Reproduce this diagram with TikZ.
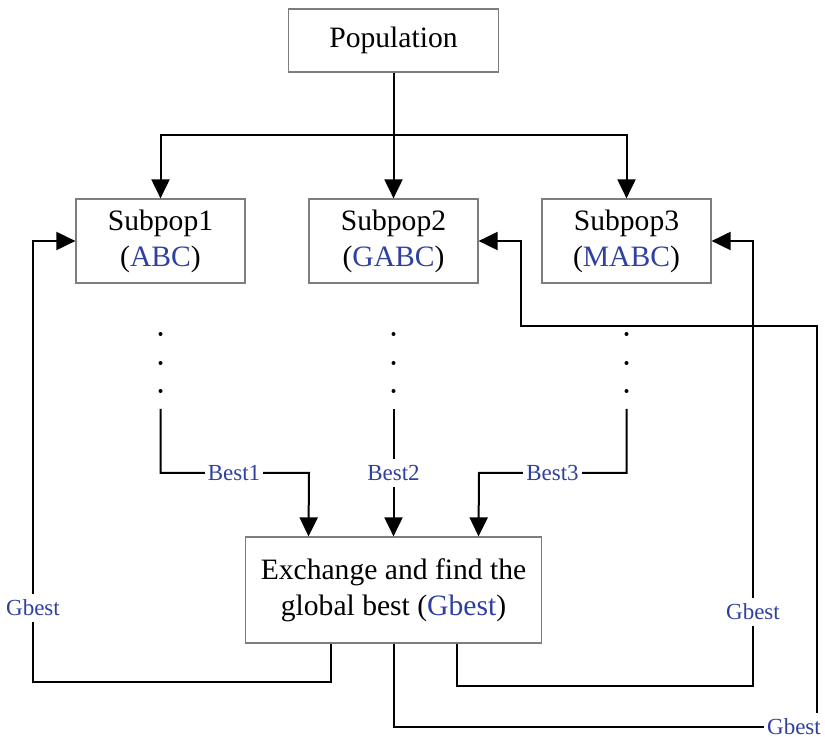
\documentclass[tikz,border=0pt]{standalone}
\usepackage{fontspec}
\setmainfont{Liberation Serif}
\usetikzlibrary{arrows.meta}
\definecolor{lblue}{RGB}{48,64,160}
\definecolor{boxgray}{RGB}{125,125,125}
\begin{document}
\begin{tikzpicture}[x=0.5pt,y=-0.5pt,
  box/.style={draw=boxgray,line width=0.6pt,align=center,inner sep=0pt,
    font=\fontsize{14.8}{18}\selectfont},
  conn/.style={line width=1pt,black},
  arr/.style={conn,-{Triangle[width=9pt,length=9.5pt]}},
  lbl/.style={fill=white,text=lblue,inner xsep=1.5pt,inner ysep=3pt,
    font=\fontsize{11.5}{13}\selectfont}]
\useasboundingbox (0,0) rectangle (825,737);
\newcommand{\bl}[1]{\textcolor{lblue}{#1}}
% boxes
\node[box,minimum width=105pt,minimum height=31.5pt] (pop) at (393.5,40.5) {Population};
\node[box,minimum width=84.5pt,minimum height=42pt] (s1) at (160.5,241) {Subpop1\\(\bl{ABC})};
\node[box,minimum width=84.5pt,minimum height=42pt] (s2) at (393.5,241) {Subpop2\\(\bl{GABC})};
\node[box,minimum width=84.5pt,minimum height=42pt] (s3) at (626.5,241) {Subpop3\\(\bl{MABC})};
\node[box,minimum width=148pt,minimum height=53pt] (ex) at (393.5,590) {Exchange and find the\\global best (\bl{Gbest})};
% top distribution
\coordinate (hj) at (393.5,135);
\draw[conn] (pop.south) -- (hj);
\draw[arr] (hj) -| (s1.north);
\draw[arr] (hj) -| (s3.north);
\draw[arr] (hj) -- (s2.north);
% dots
\foreach \x in {160.5,393.5,626.5}{
  \foreach \y in {334,363,391}{
    \fill (\x,\y) circle[radius=1pt];
  }
}
% Best connectors
\coordinate (d1) at (160.5,409);
\coordinate (d2) at (393.5,409);
\coordinate (d3) at (626.5,409);
\coordinate (c1) at (309,473);
\coordinate (c3) at (479,473);
\coordinate (e1) at ([xshift=-42.5pt]ex.north);
\coordinate (e3) at ([xshift=42.5pt]ex.north);
\draw[arr] (d1) |- (c1) -- (e1);
\draw[arr] (d2) -- (ex.north);
\draw[arr] (d3) |- (c3) -- (e3);
\node[lbl] (b1) at (234,473) {Best1};
\node[lbl] (b2) at (393.5,473) {Best2};
\node[lbl] (b3) at (552.5,473) {Best3};
% Gbest feedback
\coordinate (g1) at ([xshift=-31.5pt]ex.south);
\coordinate (g3) at ([xshift=31.5pt]ex.south);
\draw[arr] (g1) |- (33,682) -- (33,241) -- (s1.west);
\draw[arr] (g3) |- (753,686) -- (753,241) -- (s3.east);
\draw[arr] (ex.south) |- (817,727) -- (817,326) -| (521,241) -- (s2.east);
\node[lbl] (gb1) at (33,608) {Gbest};
\node[lbl] (gb3) at (753,612) {Gbest};
\node[lbl] (gb2) at (794,727) {Gbest};
\end{tikzpicture}
\end{document}
